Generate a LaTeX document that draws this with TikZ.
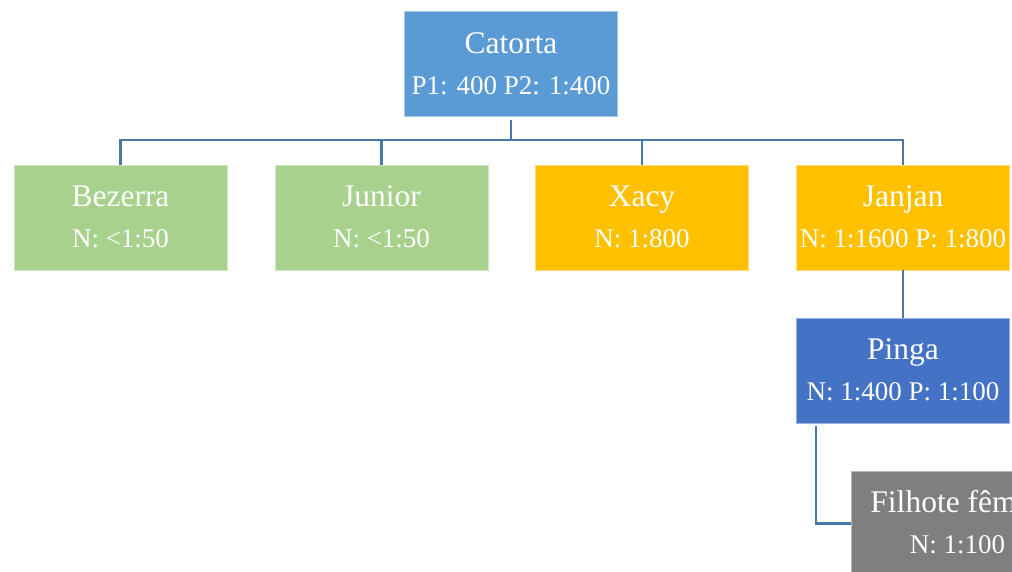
\documentclass[tikz,border=0pt]{standalone}
\usepackage{fontspec}
\setmainfont{Liberation Serif}

\definecolor{linkblue}{RGB}{70,120,170}
\definecolor{rootblue}{RGB}{91,155,213}
\definecolor{leafgreen}{RGB}{169,209,142}
\definecolor{amber}{RGB}{255,192,0}
\definecolor{royal}{RGB}{68,114,196}
\definecolor{slate}{RGB}{127,127,127}

\tikzset{
  x=1pt, y=-1pt,
  unitbox/.style={rectangle, minimum width=213pt, minimum height=105pt,
    inner sep=0pt, line width=0.8pt},
  headtext/.style={anchor=base, text=white, inner sep=0pt,
    font=\fontsize{31.5}{36}\selectfont},
  detailtext/.style={anchor=base, text=white, inner sep=0pt,
    font=\fontsize{27}{32}\selectfont},
  link/.style={draw=linkblue, line width=2.6pt},
}

% #1 name, #2 centre, #3 fill colour, #4 name line, #5 ratio line
\newcommand\famnode[5]{%
  \node[unitbox, fill=#3, draw=#3!55!white] (#1) at #2 {};
  \node[headtext] (#1-h) at ([yshift=-42pt]#1.north) {#4};
  \node[detailtext] (#1-d) at ([yshift=-83pt]#1.north) {#5};
}

\begin{document}
\begin{tikzpicture}
  \useasboundingbox (0,0) rectangle (1012,571);
  \clip (0,0) rectangle (1012,571);

  \famnode{catorta}{(511,64)}{rootblue}{Catorta}{P1: 400 P2: 1:400}
  \famnode{bezerra}{(120.5,217.5)}{leafgreen}{Bezerra}{N: <1:50}
  \famnode{junior}{(381.5,217.5)}{leafgreen}{Junior}{N: <1:50}
  \famnode{xacy}{(642,217.5)}{amber}{Xacy}{N: 1:800}
  \famnode{janjan}{(903,217.5)}{amber}{Janjan}{N: 1:1600 P: 1:800}
  \famnode{pinga}{(903,370.5)}{royal}{Pinga}{N: 1:400 P: 1:100}
  \famnode{filhote}{(957.5,523.5)}{slate}{Filhote fêmea}{N: 1:100}

  % branch bar under the root
  \coordinate (bar) at (0,140);
  \foreach \child in {bezerra,junior,xacy,janjan}
    \draw[link] ([yshift=-3pt]catorta.south) -- (catorta.south |- bar) -| (\child.north);

  \draw[link] (janjan.south) -- (pinga.north);
  \draw[link] ([xshift=20pt,yshift=-3pt]pinga.south west) |- (filhote.west);
\end{tikzpicture}
\end{document}
